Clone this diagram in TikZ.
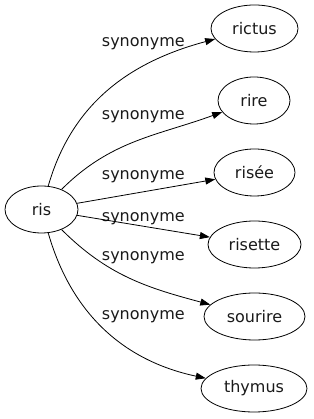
\documentclass[tikz,border=0pt]{standalone}
\usepackage{fontspec}
\setmainfont{DejaVu Sans}
\usepackage{tikz}
\usetikzlibrary{arrows.meta,shapes.geometric}
\definecolor{ink}{HTML}{000000}
\definecolor{label}{HTML}{1A1A1A}

\begin{document}
\begin{tikzpicture}[x=1pt,y=1pt,>={Triangle[length=10pt,width=7pt]},
  every node/.style={font=\fontsize{16}{19}\selectfont},
  word/.style={ellipse,draw=ink,line width=0.8pt,inner sep=0pt,minimum height=47pt,text=label},
  rel/.style={text=label,inner sep=0pt},
  edge/.style={->,draw=ink,line width=0.8pt}]
  \useasboundingbox (0,0) rectangle (313,419);
  % centre word
  \node[word,minimum width=73pt] (ris) at (41.5,209.5) {ris};
  % synonyms
  \node[word,minimum width=87pt] (rictus) at (254.5,390.5) {rictus};
  \node[word,minimum width=72pt] (rire) at (254,318.5) {rire};
  \node[word,minimum width=81pt] (risee) at (254.5,246.5) {risée};
  \node[word,minimum width=93pt] (risette) at (254.5,174.5) {risette};
  \node[word,minimum width=101pt] (sourire) at (254.5,102.5) {sourire};
  \node[word,minimum width=106pt] (thymus) at (254,30.5) {thymus};
  % edge labels
  \node[rel] (l1) at (143.3,375.7) {synonyme};
  \node[rel] (l2) at (143.3,302.3) {synonyme};
  \node[rel] (l3) at (143.3,242.3) {synonyme};
  \node[rel] (l4) at (143.3,200.7) {synonyme};
  \node[rel] (l5) at (143.3,161.7) {synonyme};
  \node[rel] (l6) at (143.3,102.3) {synonyme};
  \draw[edge] (ris) to[out=74,in=-165] (rictus);
  \draw[edge] (ris) to[out=45,in=-160] (rire);
  \draw[edge] (ris) -- (risee);
  \draw[edge] (ris) -- (risette);
  \draw[edge] (ris) to[out=-45,in=165] (sourire);
  \draw[edge] (ris) to[out=-74,in=168] (thymus);
\end{tikzpicture}
\end{document}
